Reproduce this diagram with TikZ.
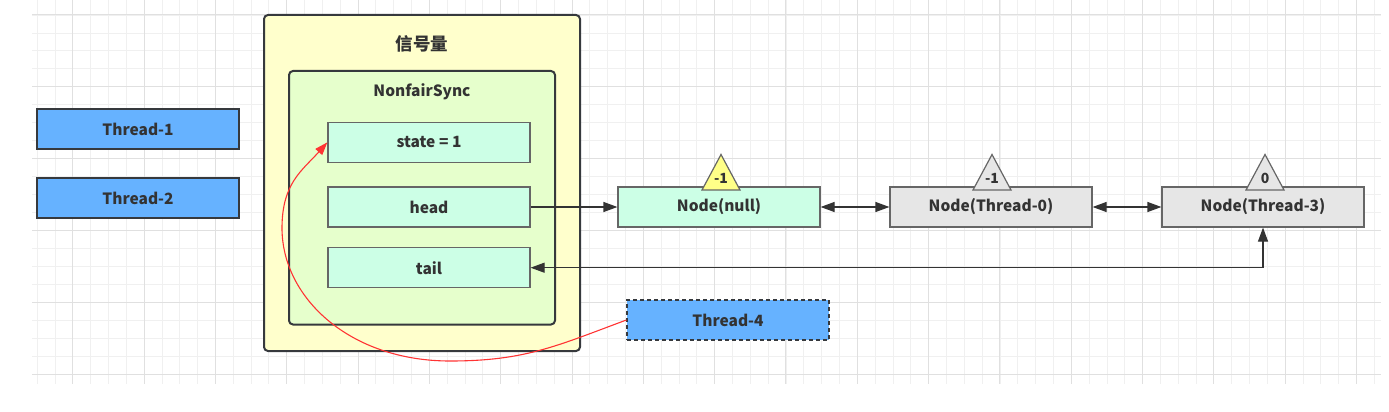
\documentclass[tikz,border=0pt]{standalone}
\usepackage{fontspec}
\newfontfamily\lbl{Noto Sans CJK SC}
\usetikzlibrary{arrows.meta,calc}
\definecolor{gminorc}{HTML}{F0F0F0}
\definecolor{gmajorc}{HTML}{E0E0E0}
\definecolor{txt}{HTML}{333333}
\definecolor{edge}{HTML}{36393D}
\definecolor{boxedge}{HTML}{666666}
\definecolor{threadblue}{HTML}{66B2FF}
\definecolor{semyellow}{HTML}{FFFFCC}
\definecolor{syncgreen}{HTML}{E6FFCC}
\definecolor{fieldgreen}{HTML}{CCFFE6}
\definecolor{nodegray}{HTML}{E6E6E6}
\definecolor{triyellow}{HTML}{FFFF88}
\definecolor{redline}{HTML}{FF3333}
\definecolor{conn}{HTML}{333333}
\begin{document}
\begin{tikzpicture}[x=1pt,y=-1pt,
  gminor/.style={draw=gminorc,line width=0.8pt},
  gmajor/.style={draw=gmajorc,line width=1pt},
  lab/.style={font=\lbl\bfseries\fontsize{15.5}{18}\selectfont,text=txt},
  box/.style={lab,draw,minimum width=202pt,minimum height=40pt,inner sep=0pt,line width=1.2pt},
  thread/.style={box,fill=threadblue,draw=edge},
  field/.style={box,fill=fieldgreen,draw=boxedge},
  qnode/.style={box,fill=nodegray,draw=boxedge},
  headnode/.style={box,fill=fieldgreen,draw=boxedge},
  container/.style={draw=edge,line width=2pt,rounded corners=4pt,inner sep=0pt},
  tri/.style={draw=boxedge,line width=1.2pt,line join=miter},
  trilab/.style={lab,font=\lbl\bfseries\fontsize{14}{16}\selectfont},
  conn/.style={draw=conn,line width=1.2pt},
  tip/.style={-{Triangle[length=14pt,width=10pt]}},
  bitip/.style={{Triangle[length=14pt,width=10pt]}-{Triangle[length=14pt,width=10pt]}},
  redarrow/.style={draw=redline,line width=1.1pt,-{Triangle[length=13pt,width=9pt]}}
]
\useasboundingbox (0,0) rectangle (1389,412);
% background grid
\foreach \i in {0,...,75} \draw[gminor] ({37.1+\i*17.83},0) -- ({37.1+\i*17.83},384);
\foreach \j in {0,...,20} \draw[gminor] (32,{15+\j*17.95}) -- (1381,{15+\j*17.95});
\foreach \i in {0,...,18} \draw[gmajor] ({72.76+\i*71.32},0) -- ({72.76+\i*71.32},384);
\foreach \j in {0,...,5} \draw[gmajor] (32,{15+\j*71.8}) -- (1381,{15+\j*71.8});

% containers
\node[container,fill=semyellow,minimum width=316pt,minimum height=336pt] (sem) at (422,183) {};
\node[lab,font=\lbl\bfseries\fontsize{17.5}{20}\selectfont] (semt) at (422,44) {信号量};
\node[container,fill=syncgreen,minimum width=266pt,minimum height=253.5pt] (sync) at (422,197.75) {};
\node[lab] (synct) at (422,92) {NonfairSync};

% fields
\node[field] (state) at (429,142.3) {state = 1};
\node[field] (head) at (429,207) {head};
\node[field] (tail) at (429,267.7) {tail};

% threads
\node[thread] (t1) at (138,129) {Thread-1};
\node[thread] (t2) at (138,198) {Thread-2};
\node[thread,dashed,dash pattern=on 4pt off 3pt] (t4) at (728,320) {Thread-4};

% queue nodes
\node[headnode] (nnull) at (719,207) {Node(null)};
\node[qnode] (n0) at (991,207) {Node(Thread-0)};
\node[qnode] (n3) at (1263,207) {Node(Thread-3)};

% wait status triangles
\draw[tri,fill=triyellow] (702,190) -- (721,154.5) -- (740,190) -- cycle;
\node[trilab] (w1) at (721,178) {-1};
\draw[tri,fill=nodegray] (973,190) -- (992,154.5) -- (1011,190) -- cycle;
\node[trilab] (w2) at (992,178) {-1};
\draw[tri,fill=nodegray] (1246,190) -- (1265,154.5) -- (1284,190) -- cycle;
\node[trilab] (w3) at (1265,178) {0};

% connectors
\draw[conn,tip] (head.east) -- (nnull.west);
\draw[conn,bitip] (nnull.east) -- (n0.west);
\draw[conn,bitip] (n0.east) -- (n3.west);
\draw[conn,bitip] (n3.south) |- (tail.east);

% red curve
\coordinate (rc1) at (450,361);
\coordinate (rc2) at (282,228);
\draw[redarrow] (t4.west) .. controls +(-70,26) and +(75,0) .. (rc1)
  .. controls +(-100,0) and +(0,70) .. (rc2)
  .. controls +(0,-45) and +(-25,28) .. (state.west);
\end{tikzpicture}
\end{document}
